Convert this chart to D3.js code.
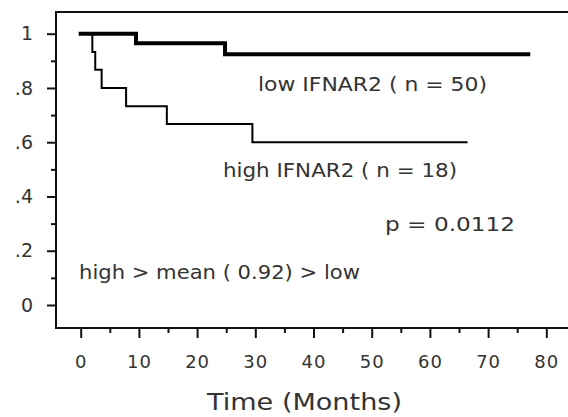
<!DOCTYPE html>
<html>
<head>
<meta charset="utf-8">
<script src="https://cdn.jsdelivr.net/npm/d3@7"></script>
<style>
  body { margin: 0; background: #fff; }
  svg { display: block; font-family: "DejaVu Sans", Verdana, sans-serif; }
  text { fill: #333; }
</style>
</head>
<body>
<div id="chart"></div>
<script>
// Kaplan-Meier steps: [months, survival]
const lowSteps = [[0, 1], [9.5, 0.965], [24.8, 0.924], [76.9, 0.924]];
const highSteps = [[0, 1], [2.0, 0.933], [2.5, 0.867], [3.6, 0.8], [7.8, 0.733], [14.8, 0.667], [29.5, 0.6], [66.3, 0.6]];

const xTicks = [0, 10, 20, 30, 40, 50, 60, 70, 80];
const xMinorTicks = [5, 15, 25, 35, 45, 55, 65, 75];
const yTicks = [0, 0.2, 0.4, 0.6, 0.8, 1];
const yTickLabels = ['0', '.2', '.4', '.6', '.8', '1'];
const yMinorTicks = [0.1, 0.3, 0.5, 0.7, 0.9];

const labelLow = 'low IFNAR2 ( n = 50)';
const labelHigh = 'high IFNAR2 ( n = 18)';
const labelP = 'p = 0.0112';
const labelMean = 'high > mean ( 0.92) > low';
const xTitle = 'Time (Months)';

const width = 568, height = 417;
const frame = { left: 56, top: 12, right: 576, bottom: 328 };

const svg = d3.select('#chart')
    .append('svg')
    .attr('width', width)
    .attr('height', height);

const x = d3.scaleLinear()
    .domain([0, 80])
    .range([80.7, 546.3]);

const y = d3.scaleLinear()
    .domain([0, 1])
    .range([305, 33.7]);

// frame (right side runs off the picture)
svg.append('path')
    .attr('d', `M${frame.right},${frame.top}H${frame.left}V${frame.bottom}H${frame.right}`)
    .attr('fill', 'none')
    .attr('stroke', '#111')
    .attr('stroke-width', 2);

// x axis
const xAxis = svg.append('g')
    .attr('transform', 'translate(0,' + frame.bottom + ')');
xAxis.call(d3.axisBottom(x).tickValues(xTicks).tickSize(10).tickPadding(17).tickFormat(d3.format('d')));
xAxis.append('g').call(d3.axisBottom(x).tickValues(xMinorTicks).tickSize(5).tickFormat(''));
xAxis.selectAll('.domain').remove();
xAxis.selectAll('line').attr('stroke', '#111').attr('stroke-width', 2);
xAxis.selectAll('text')
    .attr('fill', '#333')
    .style('font-size', '18px')
    .style('letter-spacing', '1px')
    .style('font-family', '"DejaVu Sans", Verdana, sans-serif');

// y axis
const yAxis = svg.append('g')
    .attr('transform', 'translate(' + frame.left + ',0)');
yAxis.call(d3.axisLeft(y).tickValues(yTicks).tickSize(9).tickPadding(14)
    .tickFormat((d, i) => yTickLabels[i]));
yAxis.append('g').call(d3.axisLeft(y).tickValues(yMinorTicks).tickSize(5).tickFormat(''));
yAxis.selectAll('.domain').remove();
yAxis.selectAll('line').attr('stroke', '#111').attr('stroke-width', 2);
yAxis.selectAll('text')
    .attr('fill', '#333')
    .style('font-size', '19px')
    .style('font-family', '"DejaVu Sans", Verdana, sans-serif');

// survival curves
const stepLine = d3.line()
    .x(d => x(d[0]))
    .y(d => y(d[1]))
    .curve(d3.curveStepAfter);

svg.append('path')
    .datum(highSteps)
    .attr('fill', 'none')
    .attr('stroke', '#000')
    .attr('stroke-width', 2)
    .attr('stroke-linecap', 'square')
    .attr('d', stepLine);

svg.append('path')
    .datum(lowSteps)
    .attr('fill', 'none')
    .attr('stroke', '#000')
    .attr('stroke-width', 4)
    .attr('stroke-linecap', 'square')
    .attr('d', stepLine);

// annotations
const notes = [
    { text: labelLow, x: 258, y: 91, len: 229 },
    { text: labelHigh, x: 223, y: 177, len: 234 },
    { text: labelP, x: 385, y: 231, len: 130 },
    { text: labelMean, x: 79, y: 279, len: 281 }
];
svg.selectAll('.note')
    .data(notes)
    .enter()
    .append('text')
    .attr('class', 'note')
    .attr('x', d => d.x)
    .attr('y', d => d.y)
    .attr('textLength', d => d.len)
    .attr('lengthAdjust', 'spacingAndGlyphs')
    .style('font-size', '19px')
    .text(d => d.text);

svg.append('text')
    .attr('x', 304.5)
    .attr('y', 410)
    .attr('text-anchor', 'middle')
    .attr('textLength', 195)
    .attr('lengthAdjust', 'spacingAndGlyphs')
    .style('font-size', '23px')
    .text(xTitle);
</script>
</body>
</html>
